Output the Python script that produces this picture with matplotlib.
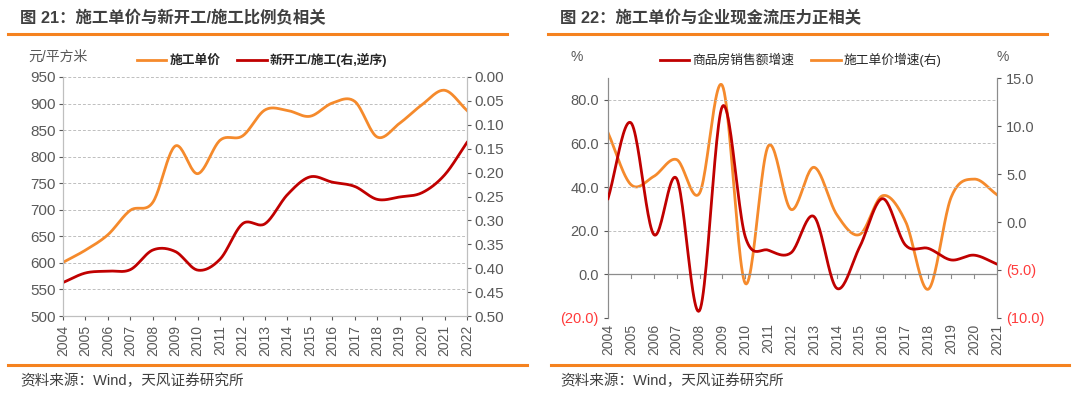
import numpy as np
import matplotlib
matplotlib.use("Agg")
import matplotlib.pyplot as plt
from matplotlib.lines import Line2D

plt.rcParams['font.family'] = ['Liberation Sans', 'Noto Sans CJK SC', 'DejaVu Sans']

# ---------------- data ----------------
years1 = list(range(2004, 2023))
unit_price = [601, 624, 653, 699, 714, 820, 768, 831, 839, 888, 887, 876, 901, 904,
              837, 863, 898, 925, 887]
new_start_ratio = [0.430, 0.410, 0.406, 0.403, 0.362, 0.365, 0.404, 0.381, 0.307, 0.307,
                   0.246, 0.209, 0.220, 0.229, 0.256, 0.251, 0.242, 0.205, 0.137]

years2 = list(range(2004, 2022))
sales_growth = [34.7, 69.5, 18.3, 43.9, -16.6, 77.0, 17.2, 11.1, 9.9, 26.5,
                -6.4, 12.6, 34.7, 13.4, 11.9, 6.6, 8.8, 4.7]
price_growth = [9.3, 3.9, 4.75, 6.5, 3.0, 14.2, -6.4, 7.9, 1.3, 5.7,
                0.76, -1.3, 2.74, 0.07, -7.0, 2.6, 4.47, 2.84]

ORANGE = '#F58A2C'
RED = '#C00000'
GRAY = '#595959'
GRID = '#BFBFBF'
NEGRED = '#FF3B3B'


def smooth(x, y, n=24):
    x = np.asarray(x, float)
    y = np.asarray(y, float)
    px = np.concatenate([[2 * x[0] - x[1]], x, [2 * x[-1] - x[-2]]])
    py = np.concatenate([[2 * y[0] - y[1]], y, [2 * y[-1] - y[-2]]])
    xs, ys = [], []
    t = np.linspace(0, 1, n, endpoint=False)
    for i in range(1, len(px) - 2):
        def cr(a0, a1, a2, a3):
            return 0.5 * ((2 * a1) + (-a0 + a2) * t + (2 * a0 - 5 * a1 + 4 * a2 - a3) * t ** 2
                          + (-a0 + 3 * a1 - 3 * a2 + a3) * t ** 3)
        xs.append(cr(px[i - 1], px[i], px[i + 1], px[i + 2]))
        ys.append(cr(py[i - 1], py[i], py[i + 1], py[i + 2]))
    xs.append([x[-1]])
    ys.append([y[-1]])
    return np.concatenate(xs), np.concatenate(ys)


fig = plt.figure(figsize=(10.8, 3.95), dpi=100)

# -------- titles and decoration --------
fig.text(20 / 1080, 1 - 18 / 395, '图 21：施工单价与新开工/施工比例负相关', fontsize=11.8,
         fontweight='bold', color='#404040', va='center', ha='left')
fig.text(560 / 1080, 1 - 18 / 395, '图 22：施工单价与企业现金流压力正相关', fontsize=11.8,
         fontweight='bold', color='#404040', va='center', ha='left')
for (x0, x1, yy) in [(8, 507, 34), (548, 1047, 34), (8, 527, 365), (551, 1069, 365)]:
    fig.add_artist(Line2D([x0 / 1080, x1 / 1080], [1 - yy / 395] * 2, color='#F5821F', lw=2.2))
fig.text(20 / 1080, 1 - 381 / 395, '资料来源：Wind，天风证券研究所', fontsize=10.5, color='#404040',
         va='center')
fig.text(560 / 1080, 1 - 381 / 395, '资料来源：Wind，天风证券研究所', fontsize=10.5, color='#404040',
         va='center')

# ---------------- chart 1 ----------------
ax1 = fig.add_axes([63 / 1080, 1 - 316 / 395, 404 / 1080, 239 / 395])
ax1r = ax1.twinx()
x1 = np.arange(len(years1))
sx, sy = smooth(x1, unit_price)
ax1.plot(sx, sy, color=ORANGE, lw=2)
sx, sy = smooth(x1, new_start_ratio)
ax1r.plot(sx, sy, color=RED, lw=2)
ax1.set_xlim(0, len(years1) - 1)
ax1.set_ylim(500, 950)
ax1.set_yticks(np.arange(500, 951, 50))
ax1r.set_ylim(0.5, 0.0)
ax1r.set_yticks(np.arange(0, 0.501, 0.05))
ax1r.set_yticklabels([f'{v:.2f}' for v in np.arange(0, 0.501, 0.05)])
ax1.set_xticks(x1)
ax1.set_xticklabels([str(y) for y in years1], rotation=90)
for yv in np.arange(550, 951, 50):
    ax1.axhline(yv, color=GRID, lw=0.7, ls=(0, (3, 2)), zorder=0)
for a in (ax1, ax1r):
    a.spines['top'].set_visible(False)
    for s in ('left', 'right', 'bottom'):
        a.spines[s].set_color('#BFBFBF')
    a.tick_params(colors=GRAY, labelsize=11, length=3, width=0.8)
    a.tick_params(axis='x', labelsize=10)
    for lab in a.get_xticklabels() + a.get_yticklabels():
        lab.set_color(GRAY)
ax1.tick_params(axis='y', pad=2)
ax1r.tick_params(axis='y', pad=2)
fig.text(28 / 1080, 1 - 57 / 395, '元/平方米', fontsize=10, color=GRAY, va='center')
h1 = [Line2D([], [], color=ORANGE, lw=2), Line2D([], [], color=RED, lw=2)]
fig.legend(h1, ['施工单价', '新开工/施工(右,逆序)'], loc='center left',
           bbox_to_anchor=(137 / 1080, 1 - 60 / 395), ncol=2, frameon=False,
           prop={'size': 9.2, 'weight': 'bold'}, handlelength=2.3, columnspacing=1.3,
           handletextpad=0.25, borderpad=0, borderaxespad=0, labelcolor='#262626')

# ---------------- chart 2 ----------------
ax2 = fig.add_axes([608 / 1080, 1 - 318 / 395, 389 / 1080, 240 / 395])
ax2r = ax2.twinx()
x2 = np.arange(len(years2))
sx, sy = smooth(x2, sales_growth)
ax2.plot(sx, sy, color=RED, lw=2, zorder=3)
sx, sy = smooth(x2, price_growth)
ax2r.plot(sx, sy, color=ORANGE, lw=2)
ax2.set_zorder(ax2r.get_zorder() + 1)
ax2.patch.set_visible(False)
ax2.set_xlim(0, len(years2) - 1)
ax2.set_ylim(-20, 90)
ax2r.set_ylim(-10, 15)


def fmt(v):
    return f'{v:.1f}' if v >= 0 else f'({abs(v):.1f})'


lt = [-20, 0, 20, 40, 60, 80]
ax2.set_yticks(lt, labels=[fmt(v) for v in lt])
rt = [-10, -5, 0, 5, 10, 15]
ax2r.set_yticks(rt, labels=[fmt(v) for v in rt])
ax2.set_xticks(x2)
ax2.set_xticklabels([str(y) for y in years2], rotation=90)
for yv in [-20, 20, 40, 60, 80]:
    ax2.axhline(yv, color=GRID, lw=0.7, ls=(0, (3, 2)), zorder=0)
for a in (ax2, ax2r):
    a.spines['top'].set_visible(False)
    a.spines['bottom'].set_visible(False)
    for s in ('left', 'right'):
        a.spines[s].set_color('#8C8C8C')
    a.tick_params(colors=GRAY, labelsize=10.5, length=3, width=0.8)
ax2.axhline(0, color='#8C8C8C', lw=0.9, zorder=1)
ax2.tick_params(axis='x', length=0, pad=4, labelsize=10)
for xv in x2[1:]:
    ax2.plot([xv, xv], [0, -1.5], color='#8C8C8C', lw=0.8, zorder=1)
for lab, v in zip(ax2.get_yticklabels(), lt):
    lab.set_color(NEGRED if v < 0 else GRAY)
for lab, v in zip(ax2r.get_yticklabels(), rt):
    lab.set_color(NEGRED if v < 0 else GRAY)
for lab in ax2.get_xticklabels():
    lab.set_color(GRAY)
fig.text(577 / 1080, 1 - 57 / 395, '%', fontsize=10, color=GRAY, va='center', ha='center')
fig.text(1003 / 1080, 1 - 57 / 395, '%', fontsize=10, color=GRAY, va='center', ha='center')
h2 = [Line2D([], [], color=RED, lw=2), Line2D([], [], color=ORANGE, lw=2)]
fig.legend(h2, ['商品房销售额增速', '施工单价增速(右)'], loc='center left',
           bbox_to_anchor=(660 / 1080, 1 - 60 / 395), ncol=2, frameon=False,
           prop={'size': 9.2}, handlelength=2.3, columnspacing=1.3,
           handletextpad=0.25, borderpad=0, borderaxespad=0, labelcolor='#262626')

fig.savefig('out.png', dpi=100)
